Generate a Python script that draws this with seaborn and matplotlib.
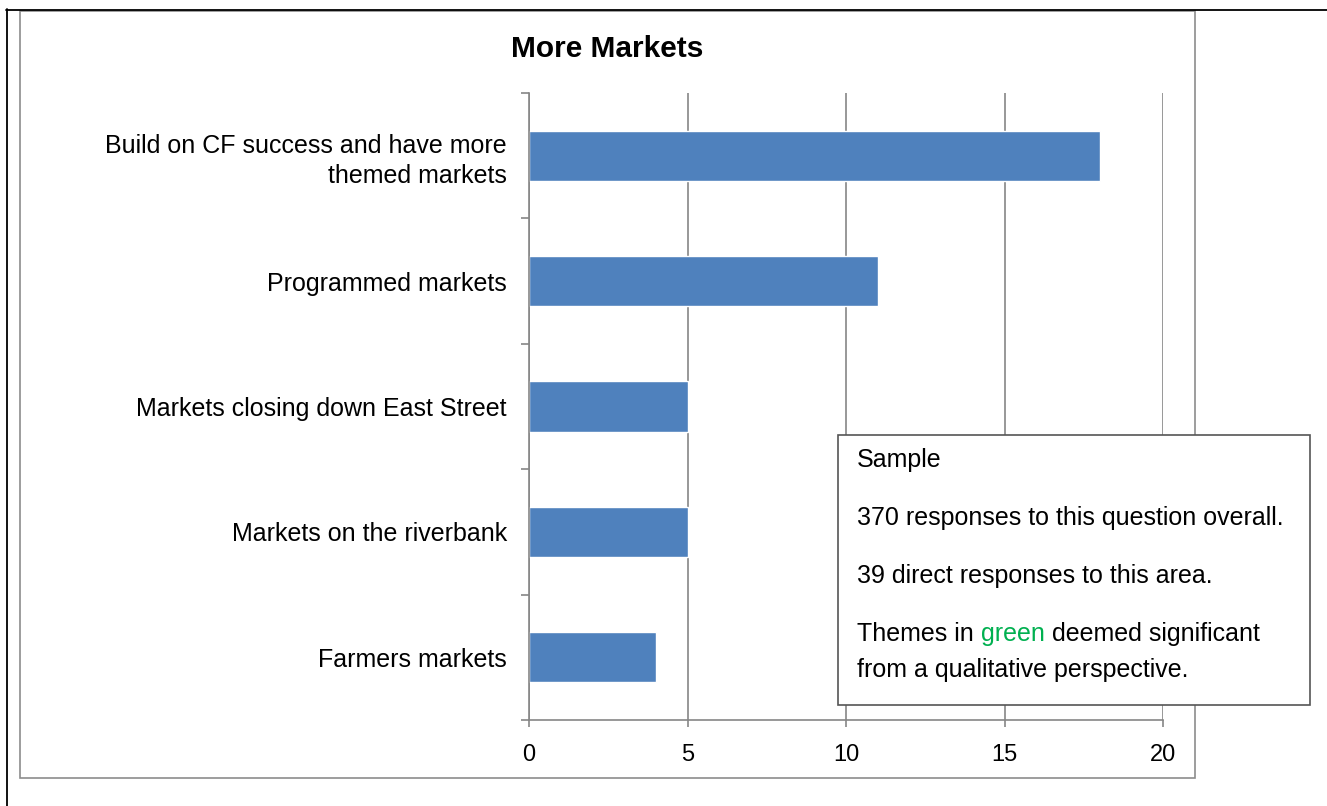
import matplotlib
matplotlib.use("Agg")
import matplotlib.pyplot as plt
import seaborn as sns
from matplotlib.patches import Rectangle
from matplotlib.lines import Line2D

categories = [
    "Build on CF success and have more\nthemed markets",
    "Programmed markets",
    "Markets closing down East Street",
    "Markets on the riverbank",
    "Farmers markets",
]
counts = [18, 11, 5, 5, 4]
x_ticks = [0, 5, 10, 15, 20]

sns.set_theme(style="white")
plt.rcParams["font.family"] = ["Liberation Sans", "DejaVu Sans"]
plt.rcParams["text.color"] = "black"

fig = plt.figure(figsize=(13.27, 8.06), dpi=100)
ax = fig.add_axes([529 / 1327, 86 / 806, 634 / 1327, 627 / 806])

sns.barplot(x=counts, y=categories, orient="h", color="#4F81BD",
            saturation=1, width=0.4, ax=ax)

ax.set_xlim(0, 20)
ax.set_ylim(4.5, -0.5)
ax.set_xticks(x_ticks)
ax.set_xticklabels([str(t) for t in x_ticks])
ax.set_yticks([i - 0.5 for i in range(len(categories) + 1)], minor=True)
ax.xaxis.grid(True, color="#868686", linewidth=1.2)
ax.set_axisbelow(True)
ax.set_xlabel("")
ax.set_ylabel("")
for lbl in ax.get_yticklabels():
    lbl.set_linespacing(1.3)

for side in ["top", "right"]:
    ax.spines[side].set_visible(False)
for side in ["left", "bottom"]:
    ax.spines[side].set_color("#868686")
    ax.spines[side].set_linewidth(1.2)

ax.tick_params(axis="y", which="major", length=0, pad=16, labelsize=18,
               labelcolor="black")
ax.tick_params(axis="y", which="minor", left=True, length=6, width=1.2,
               color="#868686", direction="out")
ax.tick_params(axis="x", which="major", bottom=True, length=5, width=1.2,
               color="#868686", direction="out", pad=12, labelsize=17,
               labelcolor="black")

# chart frame and page lines
fig.add_artist(Rectangle((20 / 1327, 28 / 806), 1175 / 1327, 767 / 806,
                         transform=fig.transFigure, fill=False,
                         edgecolor="#8c8c8c", linewidth=1.2))
fig.add_artist(Line2D([6 / 1327, 1], [1 - 9.5 / 806, 1 - 9.5 / 806],
                      transform=fig.transFigure, color="black", linewidth=1.3))
fig.add_artist(Line2D([6.5 / 1327, 6.5 / 1327], [0, 1 - 9 / 806],
                      transform=fig.transFigure, color="black", linewidth=1.3))

fig.text(607 / 1327, 1 - 49 / 806, "More Markets", ha="center", va="center",
         fontsize=21.5, fontweight="bold")

# sample note box
fig.add_artist(Rectangle((838 / 1327, 101 / 806), 472 / 1327, 270 / 806,
                         transform=fig.transFigure, facecolor="white",
                         edgecolor="#555555", linewidth=1.2, zorder=5))
tx = 857 / 1327
note_size = 18
fig.text(tx, 1 - 460 / 806, "Sample", fontsize=note_size, va="center", zorder=6)
fig.text(tx, 1 - 518 / 806, "370 responses to this question overall.",
         fontsize=note_size, va="center", zorder=6)
fig.text(tx, 1 - 576 / 806, "39 direct responses to this area.",
         fontsize=note_size, va="center", zorder=6)
t1 = fig.text(tx, 1 - 634 / 806, "Themes in ", fontsize=note_size,
              va="center", zorder=6)
fig.canvas.draw()
r = fig.canvas.get_renderer()
bb = t1.get_window_extent(r)
t2 = fig.text(bb.x1 / fig.bbox.width, 1 - 634 / 806, "green",
              fontsize=note_size, va="center", color="#00B050", zorder=6)
bb2 = t2.get_window_extent(r)
fig.text(bb2.x1 / fig.bbox.width, 1 - 634 / 806, " deemed significant",
         fontsize=note_size, va="center", zorder=6)
fig.text(tx, 1 - 670 / 806, "from a qualitative perspective.",
         fontsize=note_size, va="center", zorder=6)

fig.savefig("out.png", dpi=100)
